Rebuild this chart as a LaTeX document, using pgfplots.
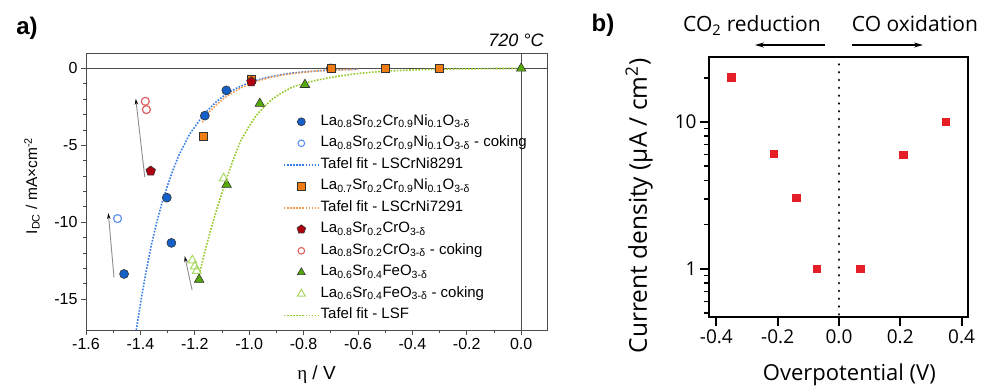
\documentclass[border=0pt]{standalone}
\usepackage{fontspec}
\setmainfont{Liberation Sans}
\newfontfamily\osans{Open Sans}
\newfontfamily\lserif{Liberation Serif}
\usepackage{pgfplots}
\pgfplotsset{compat=1.18}
\usetikzlibrary{arrows.meta,plotmarks}

\definecolor{cBlue}{RGB}{20,95,200}
\definecolor{cBlueO}{RGB}{95,145,240}
\definecolor{cBlueF}{RGB}{55,125,230}
\definecolor{cOr}{RGB}{240,125,20}
\definecolor{cOrF}{RGB}{245,155,80}
\definecolor{cRed}{RGB}{175,0,15}
\definecolor{cRedO}{RGB}{225,95,95}
\definecolor{cGr}{RGB}{85,170,10}
\definecolor{cGrO}{RGB}{170,215,100}
\definecolor{cGrF}{RGB}{150,200,40}
\definecolor{cSq}{RGB}{230,30,40}

\newcommand{\sub}[1]{\textsubscript{#1}}
\newcommand{\od}{O\sub{3-δ}}

\begin{document}
\begin{tikzpicture}
\useasboundingbox (0,0) rectangle (984pt,389pt);

\node[font=\bfseries\fontsize{24}{28}\selectfont] at (27pt,361pt) {a)};
\node[font=\bfseries\fontsize{24}{28}\selectfont] at (603pt,364pt) {b)};
\node[anchor=base, font=\itshape\fontsize{18}{20}\selectfont] at (516pt,342pt) {720 °C};

\begin{axis}[
  at={(86pt,59pt)}, anchor=south west, scale only axis,
  width=461pt, height=277pt,
  xmin=-1.6, xmax=0.095, ymin=-17, ymax=1,
  axis line style={black!70, line width=0.9pt},
  xtick={-1.6,-1.4,-1.2,-1.0,-0.8,-0.6,-0.4,-0.2,0},
  xticklabels={-1.6,-1.4,-1.2,-1.0,-0.8,-0.6,-0.4,-0.2,0.0},
  ytick={-15,-10,-5,0}, yticklabels={-15,-10,-5,0},
  minor x tick num=1, minor y tick num=4,
  tick align=outside, tick pos=left,
  major tick length=5pt, minor tick length=3pt,
  every tick/.style={black!70, line width=0.8pt},
  ticklabel style={font=\fontsize{16}{18}\selectfont},
  xlabel={{\lserif η} / V},
  ylabel={I\sub{DC} / mA×cm\textsuperscript{-2}},
  x label style={font=\fontsize{19}{22}\selectfont, at={(axis description cs:0.5,-0.162)}, anchor=center},
  y label style={font=\fontsize{15.5}{18}\selectfont, at={(axis description cs:-0.117,0.52)}, anchor=center},
  legend style={at={(rel axis cs:0.427,0.783)}, anchor=north west, draw=none, fill=none,
    font=\fontsize{15}{17}\selectfont, row sep=4.5pt, inner sep=0pt,
    nodes={inner sep=1pt, text height=11pt, text depth=4pt}},
  legend cell align=left,
  legend image code/.code={\draw[mark repeat=2,mark phase=2,#1] plot coordinates {(0pt,0pt) (17.5pt,0pt) (35pt,0pt)};},
]
% legend
\addlegendimage{only marks, mark=*, mark size=4pt, mark options={fill=cBlue, draw=black!80, line width=0.6pt}}
\addlegendentry{La\sub{0.8}Sr\sub{0.2}Cr\sub{0.9}Ni\sub{0.1}\od}
\addlegendimage{only marks, mark=o, mark size=3.3pt, mark options={draw=cBlueO, line width=1.1pt}}
\addlegendentry{La\sub{0.8}Sr\sub{0.2}Cr\sub{0.9}Ni\sub{0.1}\od{} - coking}
\addlegendimage{cBlueF, line width=1.6pt, dash pattern=on 1.6pt off 1.5pt}
\addlegendentry{Tafel fit - LSCrNi8291}
\addlegendimage{only marks, mark=square*, mark size=3.6pt, mark options={fill=cOr, draw=black!80, line width=0.6pt}}
\addlegendentry{La\sub{0.7}Sr\sub{0.2}Cr\sub{0.9}Ni\sub{0.1}\od}
\addlegendimage{cOrF, line width=1.6pt, dash pattern=on 1.6pt off 1.5pt}
\addlegendentry{Tafel fit - LSCrNi7291}
\addlegendimage{only marks, mark=pentagon*, mark size=4.5pt, mark options={fill=cRed, draw=black!80, line width=0.6pt}}
\addlegendentry{La\sub{0.8}Sr\sub{0.2}CrO\sub{3-δ}}
\addlegendimage{only marks, mark=o, mark size=3.3pt, mark options={draw=cRedO, line width=1.1pt}}
\addlegendentry{La\sub{0.8}Sr\sub{0.2}CrO\sub{3-δ} - coking}
\addlegendimage{only marks, mark=triangle*, mark size=4.5pt, mark options={fill=cGr, draw=black!80, line width=0.6pt}}
\addlegendentry{La\sub{0.6}Sr\sub{0.4}FeO\sub{3-δ}}
\addlegendimage{only marks, mark=triangle, mark size=4.5pt, mark options={draw=cGrO, line width=1pt}}
\addlegendentry{La\sub{0.6}Sr\sub{0.4}FeO\sub{3-δ} - coking}
\addlegendimage{draw=cGrF, color=cGrF, line width=1.6pt, dash pattern=on 1.6pt off 1.5pt}
\addlegendentry{Tafel fit - LSF}

% zero lines
\draw[black!70, line width=0.9pt] (axis cs:-1.6,0) -- (axis cs:0.095,0);
\draw[black!70, line width=0.9pt] (axis cs:0,-17) -- (axis cs:0,1);

% fits
\addplot[forget plot, cBlueF, line width=1.6pt, dash pattern=on 1.6pt off 1.5pt] coordinates {
(-1.415,-17.0) (-1.40,-15.3) (-1.38,-13.3) (-1.36,-11.5) (-1.34,-10.0) (-1.32,-8.7)
(-1.30,-7.6) (-1.28,-6.6) (-1.26,-5.7) (-1.24,-5.0) (-1.22,-4.3) (-1.20,-3.8)
(-1.18,-3.3) (-1.16,-2.85) (-1.14,-2.5) (-1.12,-2.15) (-1.10,-1.87) (-1.08,-1.63)
(-1.05,-1.32) (-1.02,-1.07) (-0.99,-0.87) (-0.96,-0.70) (-0.92,-0.53) (-0.88,-0.40)
(-0.84,-0.30) (-0.80,-0.23) (-0.75,-0.16) (-0.70,-0.11) (-0.65,-0.08) (-0.60,-0.055)};
\addplot[forget plot, cOrF, line width=1.6pt, dash pattern=on 1.6pt off 1.5pt] coordinates {
(-1.172,-3.5) (-1.15,-2.9) (-1.12,-2.35) (-1.09,-1.9) (-1.06,-1.56) (-1.03,-1.27)
(-1.00,-1.02) (-0.97,-0.83) (-0.93,-0.62) (-0.89,-0.47) (-0.85,-0.35) (-0.80,-0.25)
(-0.75,-0.17) (-0.70,-0.12) (-0.65,-0.085) (-0.60,-0.06)};
\addplot[forget plot, cGrF, line width=1.6pt, dash pattern=on 1.6pt off 1.5pt] coordinates {
(-1.184,-13.4) (-1.16,-11.7) (-1.14,-10.4) (-1.12,-9.2) (-1.10,-8.1) (-1.086,-7.3)
(-1.06,-6.0) (-1.031,-4.7) (-1.00,-3.75) (-0.976,-3.1) (-0.945,-2.5) (-0.915,-2.0)
(-0.88,-1.58) (-0.842,-1.22) (-0.80,-0.98) (-0.756,-0.78) (-0.71,-0.62) (-0.67,-0.50)
(-0.609,-0.35) (-0.55,-0.25) (-0.50,-0.18) (-0.40,-0.10) (-0.30,-0.05) (-0.20,-0.025)
(-0.10,-0.01) (0,0)};

% arrows
\draw[black!45, line width=0.9pt, -{Stealth[black, length=6pt, width=3.5pt]}] (axis cs:-1.497,-13.6) -- (axis cs:-1.518,-9.4);
\draw[black!45, line width=0.9pt, -{Stealth[black, length=6pt, width=3.5pt]}] (axis cs:-1.384,-7.06) -- (axis cs:-1.417,-1.97);
\draw[black!45, line width=0.9pt, -{Stealth[black, length=6pt, width=3.5pt]}] (axis cs:-1.21,-14.4) -- (axis cs:-1.237,-12.2);

% markers
\addplot[forget plot, only marks, mark=*, mark size=4.5pt, mark options={fill=cBlue, draw=black!80, line width=0.6pt}] coordinates {
(-0.70,0) (-1.084,-1.43) (-1.163,-3.07) (-1.303,-8.4) (-1.286,-11.34) (-1.460,-13.36)};
\addplot[forget plot, only marks, mark=o, mark size=4pt, mark options={draw=cBlueO, line width=1.2pt}] coordinates {
(-1.484,-9.76)};
\addplot[forget plot, only marks, mark=square*, mark size=4pt, mark options={fill=cOr, draw=black!80, line width=0.6pt}] coordinates {
(-1.168,-4.42) (-0.992,-0.70) (-0.698,0) (-0.50,0) (-0.30,0)};
\addplot[forget plot, only marks, mark=pentagon*, mark size=5pt, mark options={fill=cRed, draw=black!80, line width=0.6pt}] coordinates {
(-1.362,-6.67) (-0.992,-0.87)};
\addplot[forget plot, only marks, mark=o, mark size=4pt, mark options={draw=cRedO, line width=1.2pt}] coordinates {
(-1.382,-2.14) (-1.378,-2.68)};
\addplot[forget plot, only marks, mark=triangle*, mark size=5.5pt, mark options={fill=cGr, draw=black!80, line width=0.6pt}] coordinates {
(-1.184,-13.72) (-1.083,-7.55) (-0.961,-2.29) (-0.795,-1.06) (0,0)};
\addplot[forget plot, only marks, mark=triangle, mark size=5pt, mark options={draw=cGrO, line width=1pt}] coordinates {
(-1.209,-12.47) (-1.200,-12.86) (-1.193,-13.16) (-1.094,-7.14)};
\end{axis}

% panel b
\node[anchor=base, font=\osans\fontsize{21}{24}\selectfont] at (752pt,357pt) {CO\textsubscript{2} reduction};
\node[anchor=base, font=\osans\fontsize{21}{24}\selectfont] at (915pt,357pt) {CO oxidation};
\draw[line width=1.2pt, -{Stealth[length=9pt, width=5pt]}] (825pt,344pt) -- (755pt,344pt);
\draw[line width=1.2pt, -{Stealth[length=9pt, width=5pt]}] (852pt,344pt) -- (923pt,344pt);

\begin{axis}[
  at={(709pt,72pt)}, anchor=south west, scale only axis,
  width=259pt, height=260pt,
  xmin=-0.424, xmax=0.421, ymode=log, ymin=0.47, ymax=27.7,
  axis line style={line width=2.2pt},
  xtick={-0.4,-0.2,0,0.2,0.4}, xticklabels={-0.4,-0.2,0.0,0.2,0.4},
  ytick={1,10}, yticklabels={1,10},
  minor ytick={0.5,0.6,0.7,0.8,0.9,2,3,4,5,6,7,8,9,20},
  tick align=outside, tick pos=left,
  major tick length=9pt, minor tick length=5pt,
  major tick style={line width=2pt, black},
  minor tick style={line width=1.5pt, black},
  ticklabel style={font=\osans\fontsize{19}{22}\selectfont},
  xlabel={Overpotential (V)},
  ylabel={Current density (μA / cm\textsuperscript{2})},
  x label style={font=\osans\fontsize{22}{26}\selectfont, at={(axis description cs:0.542,-0.223)}, anchor=center},
  y label style={font=\osans\fontsize{24.5}{28}\selectfont, at={(axis description cs:-0.27,0.427)}, anchor=center},
]
\draw[black, line width=2.8pt, line cap=round, dash pattern=on 0.01pt off 7.8pt] (axis cs:0,0.49) -- (axis cs:0,27);
\addplot[only marks, mark=square*, mark size=3.7pt, color=cSq] coordinates {
(-0.352,20.2) (-0.212,6.06) (-0.140,3.04) (-0.072,1) (0.069,1) (0.209,6) (0.349,10)};
\end{axis}
\end{tikzpicture}
\end{document}
